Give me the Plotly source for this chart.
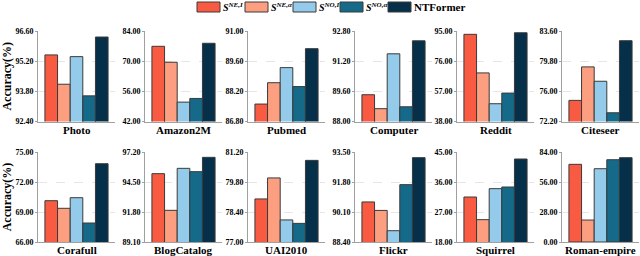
import plotly.graph_objects as go

datasets = ["Photo", "Amazon2M", "Pubmed", "Computer", "Reddit", "Citeseer",
            "Corafull", "BlogCatalog", "UAI2010", "Flickr", "Squirrel", "Roman-empire"]

methods = ["<i>S</i><sup><i>NE,I</i></sup>", "<i>S</i><sup><i>NE,α</i></sup>",
           "<i>S</i><sup><i>NO,I</i></sup>", "<i>S</i><sup><i>NO,α</i></sup>", "NTFormer"]

s_ne_i = [95.49, 76.9, 87.61, 89.42, 92.9, 74.86, 70.13, 95.25, 79.01, 90.67, 31.5, 72.5]
s_ne_a = [94.13, 69.5, 88.60, 88.68, 68.6, 79.08, 69.37, 91.95, 79.99, 90.19, 24.7, 20.5]
s_no_i = [95.41, 51.0, 89.30, 91.59, 49.2, 77.27, 70.43, 95.73, 78.03, 89.04, 34.0, 68.4]
s_no_a = [93.59, 52.7, 88.42, 88.78, 55.9, 73.3, 67.9, 95.43, 77.87, 91.65, 34.5, 76.8]
ntformer = [96.32, 78.3, 90.18, 92.28, 93.9, 82.38, 73.83, 96.72, 80.81, 93.18, 42.9, 78.7]

y_ticks = [
    [92.4, 93.8, 95.2, 96.6], [42, 56, 70, 84], [86.8, 88.2, 89.6, 91.0],
    [88.0, 89.6, 91.2, 92.8], [38, 57, 76, 95], [72.2, 76.0, 79.8, 83.6],
    [66, 69, 72, 75], [89.1, 91.8, 94.5, 97.2], [77.0, 78.4, 79.8, 81.2],
    [88.4, 90.1, 91.8, 93.5], [18, 27, 36, 45], [0, 28, 56, 84],
]

series = [s_ne_i, s_ne_a, s_no_i, s_no_a, ntformer]
colors = ["#F95A42", "#FC9F80", "#94CBEA", "#156A8A", "#06304A"]

W, H = 640, 256
axis_px = [38, 145, 248, 355, 457, 562]
panel_w = 77
rows_px = [(31, 121.5), (152, 242)]

FONT = "Liberation Serif"

fig = go.Figure()
annotations = []
shapes = []
for k, name in enumerate(datasets):
    r, c = divmod(k, 6)
    idx = k + 1
    xa = "x" if idx == 1 else f"x{idx}"
    ya = "y" if idx == 1 else f"y{idx}"
    for m, (vals, col) in enumerate(zip(series, colors)):
        fig.add_trace(go.Bar(
            x=[name], y=[vals[k]], name=methods[m], marker_color=col,
            marker_line=dict(color="#3a3a3a", width=1),
            xaxis=xa, yaxis=ya, showlegend=False,
        ))
    x0 = axis_px[c] / W
    x1 = (axis_px[c] + panel_w) / W
    top, bot = rows_px[r]
    y0 = 1 - bot / H
    y1 = 1 - top / H
    ticks = y_ticks[k]
    xkey = "xaxis" if idx == 1 else f"xaxis{idx}"
    ykey = "yaxis" if idx == 1 else f"yaxis{idx}"
    fig.layout[xkey] = dict(
        domain=[x0, x1], anchor=ya, showline=True, linecolor="#a0a0a0", linewidth=1,
        ticks="", showticklabels=False, showgrid=False, zeroline=False,
        automargin=False, fixedrange=True,
    )
    fig.layout[ykey] = dict(
        domain=[y0, y1], anchor=xa, range=[ticks[0], ticks[-1]],
        tickmode="array", tickvals=ticks, ticktext=[f"{t:.2f}" for t in ticks],
        tickfont=dict(family=FONT, size=8, color="black", weight="bold"),
        showline=True, linecolor="#a0a0a0", linewidth=1,
        ticks="outside", ticklen=2, tickcolor="#a0a0a0",
        showgrid=True, gridcolor="#e6e6e6", griddash="dash", gridwidth=1,
        zeroline=False, automargin=False, fixedrange=True,
    )
    if c == 0:
        fig.layout[ykey].title = dict(text="Accuracy(%)", standoff=4,
                                      font=dict(family=FONT, size=12, color="black", weight="bold"))
    annotations.append(dict(
        text=name, xref=f"{xa} domain", yref=f"{ya} domain", x=0.5, y=0,
        xanchor="center", yanchor="top", yshift=0, showarrow=False,
        font=dict(family=FONT, size=11, color="black", weight="bold"),
    ))

# legend (manual, to match the reference's wide swatches)
leg_x = [197, 245, 293, 340, 388]
sw_w, sw_top, sw_bot = 23, 2, 12
for m in range(5):
    xs = leg_x[m]
    shapes.append(dict(type="rect", xref="paper", yref="paper", layer="below",
                       x0=xs / W, x1=(xs + sw_w) / W, y0=1 - sw_bot / H, y1=1 - sw_top / H,
                       fillcolor=colors[m], line=dict(color="#3a3a3a", width=1)))
    annotations.append(dict(
        text=methods[m], xref="paper", yref="paper", x=(xs + sw_w + 1) / W, y=1 - 7 / H,
        xanchor="left", yanchor="middle", showarrow=False,
        font=dict(family=FONT, size=10 if m < 4 else 11, color="black", weight="bold"),
    ))

fig.update_layout(
    template="none",
    width=W, height=H, margin=dict(l=0, r=0, t=0, b=0),
    barmode="group", bargap=0.18, bargroupgap=0,
    plot_bgcolor="white", paper_bgcolor="white",
    showlegend=False, hovermode=False,
    annotations=annotations, shapes=shapes,
    font=dict(family=FONT, color="black"),
)

fig.write_html("out.html", config={"displayModeBar": False},
               post_script="document.body.style.margin='0';")
